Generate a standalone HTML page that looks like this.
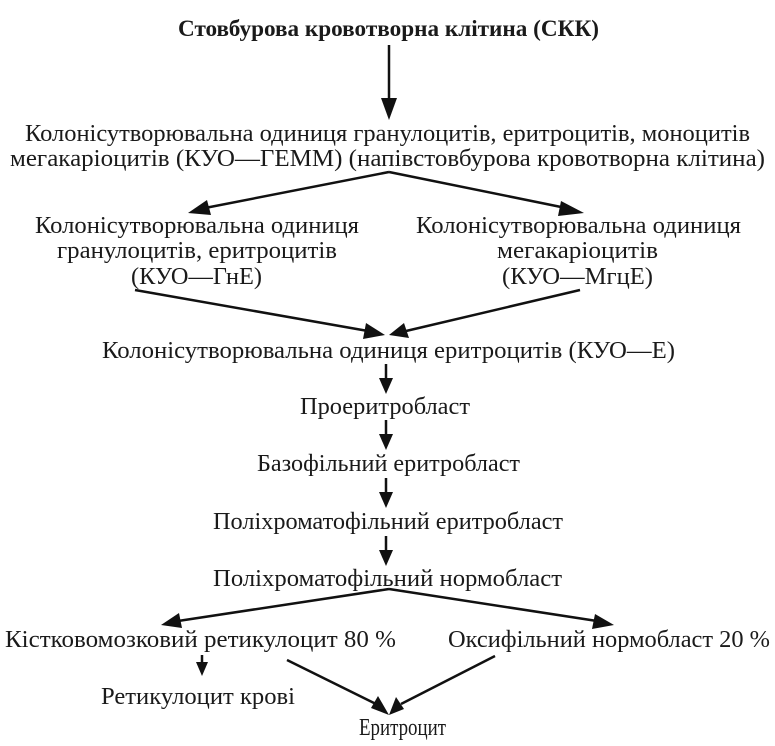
<!DOCTYPE html>
<html><head><meta charset="utf-8"><style>
html,body{margin:0;padding:0;background:#fff}
svg{display:block}
text{font-family:"Liberation Serif",serif;font-size:24px;fill:#1a1a1a}
</style></head><body>
<svg width="775" height="746" viewBox="0 0 775 746" xmlns="http://www.w3.org/2000/svg">
<g stroke="#111" stroke-width="2.5" fill="none">
<line x1="389" y1="45" x2="389" y2="100"/>
<line x1="389" y1="172" x2="205" y2="208"/>
<line x1="389" y1="172" x2="566" y2="208"/>
<line x1="135" y1="290" x2="368" y2="331"/>
<line x1="580" y1="290" x2="406" y2="331"/>
<line x1="386" y1="364" x2="386" y2="380"/>
<line x1="386" y1="420" x2="386" y2="436"/>
<line x1="386" y1="478" x2="386" y2="494"/>
<line x1="386" y1="536" x2="386" y2="552"/>
<line x1="389" y1="589" x2="178" y2="621"/>
<line x1="389" y1="589" x2="597" y2="621"/>
<line x1="202" y1="655" x2="202" y2="664"/>
<line x1="287" y1="660" x2="376" y2="704"/>
<line x1="495" y1="656" x2="401" y2="704"/>
</g>
<g fill="#111">
<polygon points="389,120 381,98 397,98"/>
<polygon points="188,213 207,200 211,215"/>
<polygon points="584,213 561,201 558,216"/>
<polygon points="385,335 366,323 363,339"/>
<polygon points="389,335 404,323 409,338"/>
<polygon points="386,394 379,378 393,378"/>
<polygon points="386,450 379,434 393,434"/>
<polygon points="386,508 379,492 393,492"/>
<polygon points="386,566 379,550 393,550"/>
<polygon points="161,625 179,613 182,628"/>
<polygon points="614,625 595,614 592,629"/>
<polygon points="202,676 196,662 208,662"/>
<polygon points="389,715 371,708 378,696"/>
<polygon points="389,715 396,697 404,709"/>
</g>
<text x="178" y="36" textLength="421" lengthAdjust="spacingAndGlyphs" style="font-weight:bold;font-size:23px">Стовбурова кровотворна клітина (СКК)</text>
<text x="25" y="141" textLength="725" lengthAdjust="spacingAndGlyphs">Колонісутворювальна одиниця гранулоцитів, еритроцитів, моноцитів</text>
<text x="10" y="166" textLength="755" lengthAdjust="spacingAndGlyphs">мегакаріоцитів (КУО—ГЕММ) (напівстовбурова кровотворна клітина)</text>
<text x="35" y="233" textLength="324" lengthAdjust="spacingAndGlyphs">Колонісутворювальна одиниця</text>
<text x="57" y="258" textLength="280" lengthAdjust="spacingAndGlyphs">гранулоцитів, еритроцитів</text>
<text x="131" y="284" textLength="131" lengthAdjust="spacingAndGlyphs">(КУО—ГнЕ)</text>
<text x="416" y="233" textLength="325" lengthAdjust="spacingAndGlyphs">Колонісутворювальна одиниця</text>
<text x="497" y="258" textLength="161" lengthAdjust="spacingAndGlyphs">мегакаріоцитів</text>
<text x="502" y="284" textLength="151" lengthAdjust="spacingAndGlyphs">(КУО—МгцЕ)</text>
<text x="102" y="358" textLength="573" lengthAdjust="spacingAndGlyphs">Колонісутворювальна одиниця еритроцитів (КУО—Е)</text>
<text x="300" y="414" textLength="170" lengthAdjust="spacingAndGlyphs">Проеритробласт</text>
<text x="257" y="471" textLength="263" lengthAdjust="spacingAndGlyphs">Базофільний еритробласт</text>
<text x="213" y="529" textLength="350" lengthAdjust="spacingAndGlyphs">Поліхроматофільний еритробласт</text>
<text x="213" y="586" textLength="349" lengthAdjust="spacingAndGlyphs">Поліхроматофільний нормобласт</text>
<text x="5" y="647" textLength="391" lengthAdjust="spacingAndGlyphs">Кістковомозковий ретикулоцит 80 %</text>
<text x="448" y="647" textLength="322" lengthAdjust="spacingAndGlyphs">Оксифільний нормобласт 20 %</text>
<text x="101" y="704" textLength="194" lengthAdjust="spacingAndGlyphs">Ретикулоцит крові</text>
<text x="359" y="735" textLength="87" lengthAdjust="spacingAndGlyphs">Еритроцит</text>
</svg>
</body></html>
